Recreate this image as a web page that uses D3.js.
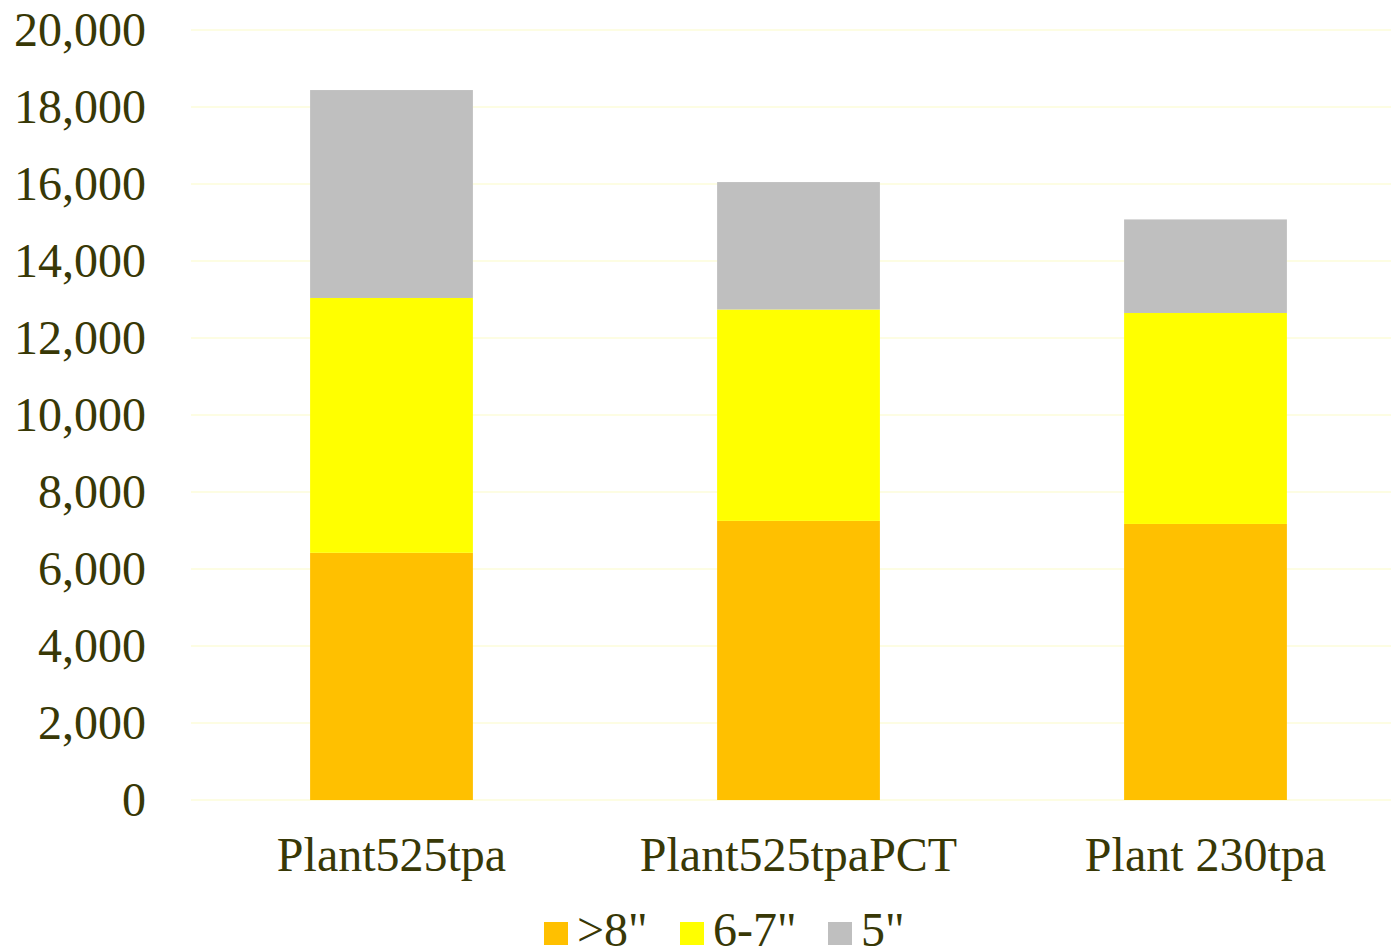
<!DOCTYPE html>
<html><head><meta charset="utf-8">
<script src="https://cdn.jsdelivr.net/npm/d3@7"></script>
<style>body{margin:0;background:#fff}svg{display:block}</style>
</head><body><svg id="c" width="1391" height="952"></svg>
<script>
const categories = ["Plant525tpa", "Plant525tpaPCT", "Plant 230tpa"];
const seriesNames = [">8\"", "6-7\"", "5\""];
const over8 = [6420, 7250, 7170];
const s6to7 = [6620, 5490, 5480];
const s5 = [5400, 3310, 2430];
const yTicks = [0, 2000, 4000, 6000, 8000, 10000, 12000, 14000, 16000, 18000, 20000];
const colors = ["#FFC000", "#FFFF00", "#BFBFBF"];

const svg = d3.select("#c");
const textColor = "#383806";
const font = "'Liberation Serif','Times New Roman',serif";

const x = d3.scaleBand().domain(categories).range([188, 1409]).paddingInner(0.6).paddingOuter(0.3);
const y = d3.scaleLinear().domain([0, 20000]).range([800, 30]);

// gridlines
svg.append("g").selectAll("line").data(yTicks).join("line")
  .attr("x1", 191).attr("x2", 1391)
  .attr("y1", d => y(d)).attr("y2", d => y(d))
  .attr("stroke", "#FDFDE3").attr("stroke-width", 2);

// stacked data
const rows = categories.map((c, i) => ({cat: c, a: over8[i], b: s6to7[i], c5: s5[i]}));
const stack = d3.stack().keys(["a", "b", "c5"])(rows);
svg.append("g").selectAll("g").data(stack).join("g")
  .attr("fill", (d, i) => colors[i])
  .selectAll("rect").data(d => d).join("rect")
  .attr("x", d => x(d.data.cat))
  .attr("width", x.bandwidth())
  .attr("y", d => y(d[1]))
  .attr("height", d => y(d[0]) - y(d[1]));

// y axis
const yAxis = d3.axisLeft(y).tickValues(yTicks).tickFormat(d3.format(",")).tickSize(0).tickPadding(0);
const ya = svg.append("g").attr("transform", "translate(146,0)").call(yAxis);
ya.select(".domain").remove();
ya.selectAll("text").attr("font-family", font).attr("font-size", 48).attr("fill", textColor).attr("dy", "0.32em");

// x axis
const xAxis = d3.axisBottom(x).tickSize(0).tickPadding(0);
const xa = svg.append("g").attr("transform", "translate(0,871)").call(xAxis);
xa.select(".domain").remove();
xa.selectAll("text").attr("font-family", font).attr("font-size", 48).attr("fill", textColor).attr("dy", 0);

// legend
const legX = [544, 680, 828];
const leg = svg.append("g");
seriesNames.forEach((n, i) => {
  leg.append("rect").attr("x", legX[i]).attr("y", 922).attr("width", 24).attr("height", 23).attr("fill", colors[i]);
  leg.append("text").attr("x", legX[i] + 33).attr("y", 946).text(n)
    .attr("font-family", font).attr("font-size", 48).attr("fill", textColor);
});
</script></body></html>
